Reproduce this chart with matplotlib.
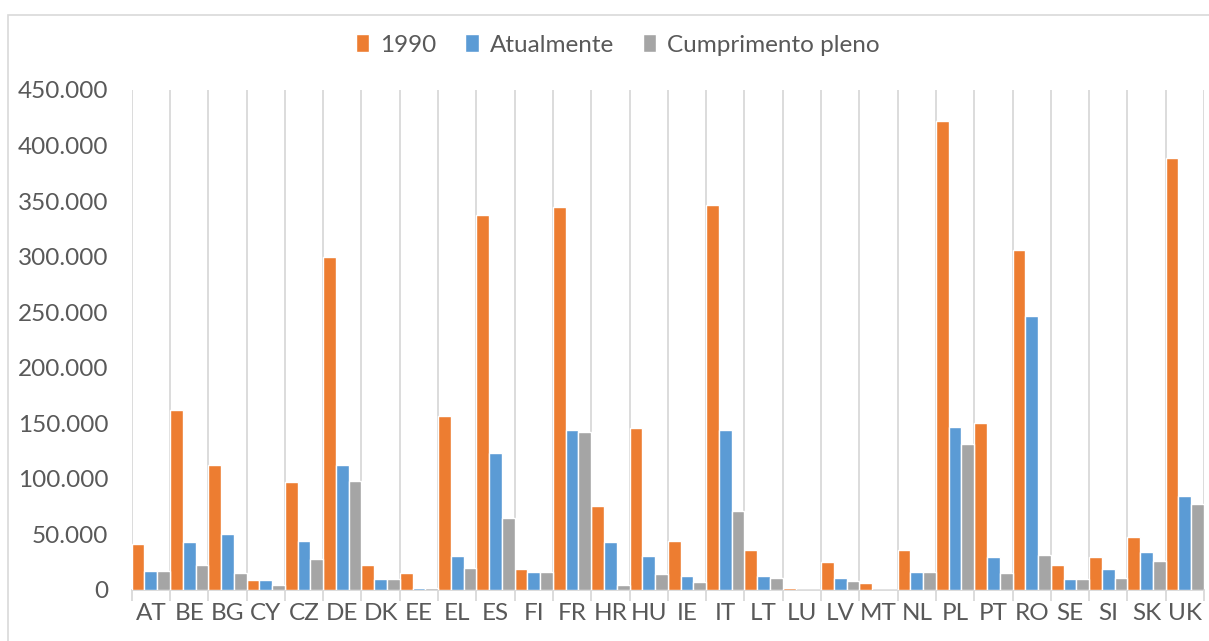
import matplotlib
matplotlib.use("Agg")
import matplotlib.pyplot as plt
import numpy as np
from matplotlib.ticker import FuncFormatter, FixedLocator
from matplotlib.patches import Rectangle

categories = ["AT", "BE", "BG", "CY", "CZ", "DE", "DK", "EE", "EL", "ES", "FI", "FR", "HR", "HU",
              "IE", "IT", "LT", "LU", "LV", "MT", "NL", "PL", "PT", "RO", "SE", "SI", "SK", "UK"]
v1990 = [41000, 162000, 112500, 9000, 97500, 299500, 22500, 15000, 156500, 337500, 19200, 344500,
         75300, 145700, 44100, 346500, 36300, 1500, 25500, 6300, 36300, 422000, 150000, 306000,
         22500, 29400, 47700, 389000]
atualmente = [17400, 42900, 50400, 9000, 44100, 112200, 9600, 1500, 30600, 123600, 16500, 144000,
              42900, 30600, 12900, 144000, 12300, 0, 10800, 0, 15900, 146400, 30000, 246600,
              10200, 18600, 34500, 84600]
cumprimento = [17400, 22500, 15000, 4500, 27900, 98100, 9600, 1500, 19800, 64500, 16500, 142500,
               4500, 14400, 7200, 71400, 10800, 0, 8400, 0, 15900, 131100, 15300, 31200,
               10200, 10800, 26100, 77100]
series_names = ["1990", "Atualmente", "Cumprimento pleno"]
colors = ["#ED7D31", "#5B9BD5", "#A5A5A5"]

plt.rcParams['font.family'] = ['Lato', 'DejaVu Sans']
text_color = "#595959"
grid_color = "#D9D9D9"
fs = 17.5

fig = plt.figure(figsize=(12.09, 6.41), dpi=100)
ax = fig.add_axes([131.7 / 1209, 1 - 590 / 641, (1204 - 131.7) / 1209, 500 / 641])

x = np.arange(len(categories))
w = 1 / 3
for i, (vals, name, c) in enumerate(zip([v1990, atualmente, cumprimento], series_names, colors)):
    ax.bar(x - 0.5 + w * (i + 0.5), vals, width=w, color=c, edgecolor="white",
           linewidth=1.0, label=name, zorder=3)

ax.set_xlim(-0.5, len(categories) - 0.5)
ax.set_ylim(0, 450000)
ax.set_yticks(np.arange(0, 450001, 50000))
ax.yaxis.set_major_formatter(FuncFormatter(lambda v, p: f"{int(v):,}".replace(",", ".")))
ax.set_xticks(x)
ax.set_xticklabels(categories)
ax.xaxis.set_minor_locator(FixedLocator(np.arange(-0.5, len(categories), 1)))
ax.grid(False)
ax.xaxis.grid(True, which="minor", color=grid_color, linewidth=1.3, zorder=0)
ax.tick_params(axis="x", which="major", length=0, pad=9, labelsize=fs, labelcolor=text_color)
ax.tick_params(axis="x", which="minor", length=8, width=1.3, color=grid_color)
ax.tick_params(axis="y", length=0, pad=17, labelsize=fs, labelcolor=text_color)
for s in ["top", "right", "left"]:
    ax.spines[s].set_visible(False)
ax.spines["bottom"].set_color(grid_color)
ax.spines["bottom"].set_linewidth(1.3)

leg = fig.legend(loc="center", bbox_to_anchor=(0.511, 1 - 45 / 641), ncol=3, frameon=False,
                 fontsize=fs, handlelength=0.55, handleheight=0.75, handletextpad=0.45,
                 columnspacing=1.2)
for t in leg.get_texts():
    t.set_color(text_color)

fig.patches.append(Rectangle((8 / 1209, -0.01), 1.02, 1 - 15 / 641 + 0.01, transform=fig.transFigure,
                             fill=False, edgecolor=grid_color, linewidth=1.2))

fig.savefig("out.png", dpi=100, facecolor="white")
